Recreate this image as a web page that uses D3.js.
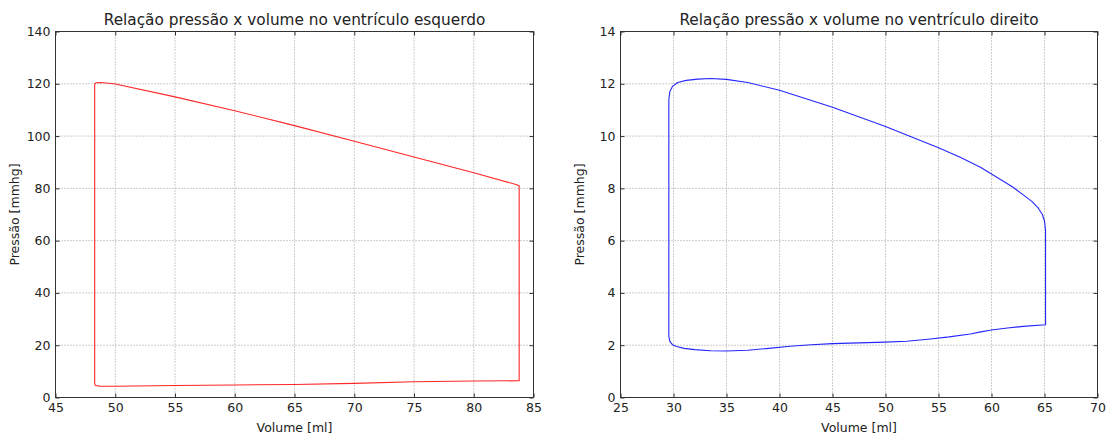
<!DOCTYPE html>
<html>
<head>
<meta charset="utf-8">
<script src="https://cdn.jsdelivr.net/npm/d3@7"></script>
<style>
  html, body { margin: 0; padding: 0; background: #fff; }
  svg text { font-family: "DejaVu Sans", sans-serif; fill: #222; }
</style>
</head>
<body>
<svg id="chart" width="1109" height="437"></svg>
<script>
// Left ventricle pressure–volume loop (volume ml, pressure mmHg)
const leftVolume = [48.28, 48.28, 48.35, 48.7, 50, 55, 60, 65, 70, 75, 80, 83.8, 83.8,
                    83.6, 80, 75, 70, 65, 60, 55, 50, 49.3, 48.7, 48.4, 48.28];
const leftPressure = [120.0, 5.2, 4.6, 4.35, 4.3, 4.6, 4.8, 5.0, 5.4, 6.0, 6.3, 6.4, 81.0,
                      81.4, 86.0, 92.0, 98.0, 104.0, 109.7, 115.0, 119.9, 120.3, 120.5, 120.4, 120.0];

// Right ventricle pressure–volume loop (volume ml, pressure mmHg)
const rightVolume = [29.56, 29.56, 29.65, 29.9, 30.3, 31, 32, 33.5, 35, 37, 39, 41, 43, 45,
                     47.5, 50, 52, 54, 56, 58, 59, 60, 61.5, 63, 65.1,
                     65.1, 65.0, 64.8, 64.4, 63.8, 63, 62, 61, 60, 59, 57, 55, 50, 45, 40, 37, 35,
                     33.5, 32.3, 31.2, 30.4, 29.9, 29.65, 29.56];
const rightPressure = [11.4, 2.35, 2.15, 2.02, 1.95, 1.88, 1.83, 1.79, 1.78, 1.81, 1.88, 1.96, 2.02, 2.06,
                       2.09, 2.12, 2.15, 2.23, 2.32, 2.43, 2.51, 2.58, 2.66, 2.72, 2.78,
                       6.4, 6.75, 7.0, 7.25, 7.5, 7.75, 8.05, 8.3, 8.55, 8.8, 9.2, 9.55, 10.37, 11.1, 11.75, 12.05, 12.17,
                       12.2, 12.18, 12.13, 12.05, 11.9, 11.7, 11.4];

const leftXTicks = [45, 50, 55, 60, 65, 70, 75, 80, 85];
const leftYTicks = [0, 20, 40, 60, 80, 100, 120, 140];
const rightXTicks = [25, 30, 35, 40, 45, 50, 55, 60, 65, 70];
const rightYTicks = [0, 2, 4, 6, 8, 10, 12, 14];

const svg = d3.select("#chart");

function drawPanel(cfg) {
  const x = d3.scaleLinear().domain(cfg.xDomain).range([cfg.left, cfg.right]);
  const y = d3.scaleLinear().domain(cfg.yDomain).range([cfg.bottom, cfg.top]);
  const g = svg.append("g");

  // dotted grid
  g.append("g").selectAll("line").data(cfg.xTicks.slice(1, -1)).join("line")
    .attr("x1", d => x(d)).attr("x2", d => x(d))
    .attr("y1", cfg.top).attr("y2", cfg.bottom)
    .attr("stroke", "#9a9a9a").attr("stroke-width", 1).attr("stroke-dasharray", "1,2");
  g.append("g").selectAll("line").data(cfg.yTicks.slice(1, -1)).join("line")
    .attr("y1", d => y(d)).attr("y2", d => y(d))
    .attr("x1", cfg.left).attr("x2", cfg.right)
    .attr("stroke", "#9a9a9a").attr("stroke-width", 1).attr("stroke-dasharray", "1,2");

  // inward ticks on all four sides
  const tickLen = 4;
  const axB = d3.axisBottom(x).tickValues(cfg.xTicks).tickSize(-tickLen).tickPadding(6).tickFormat(d3.format("d"));
  const axT = d3.axisTop(x).tickValues(cfg.xTicks).tickSize(-tickLen).tickFormat("");
  const axL = d3.axisLeft(y).tickValues(cfg.yTicks).tickSize(-tickLen).tickPadding(5).tickFormat(d3.format("d"));
  const axR = d3.axisRight(y).tickValues(cfg.yTicks).tickSize(-tickLen).tickFormat("");

  const style = sel => {
    sel.select(".domain").remove();
    sel.selectAll(".tick line").attr("stroke", "#333");
    sel.selectAll(".tick text").attr("font-size", 12.5).attr("fill", "#222")
      .attr("font-family", "DejaVu Sans, sans-serif");
  };
  g.append("g").attr("transform", `translate(0,${cfg.bottom})`).call(axB).call(style);
  g.append("g").attr("transform", `translate(0,${cfg.top})`).call(axT).call(style);
  g.append("g").attr("transform", `translate(${cfg.left},0)`).call(axL).call(style);
  g.append("g").attr("transform", `translate(${cfg.right},0)`).call(axR).call(style);

  // loop curve
  const pts = cfg.vol.map((v, i) => [v, cfg.pres[i]]);
  const line = d3.line().x(d => x(d[0])).y(d => y(d[1])).curve(d3.curveLinear);
  g.append("path").datum(pts)
    .attr("d", line)
    .attr("fill", "none")
    .attr("stroke", cfg.color)
    .attr("stroke-width", 1.1)
    .attr("stroke-linejoin", "round")
    .attr("stroke-opacity", 0.85);

  // frame
  g.append("rect")
    .attr("x", cfg.left).attr("y", cfg.top)
    .attr("width", cfg.right - cfg.left).attr("height", cfg.bottom - cfg.top)
    .attr("fill", "none").attr("stroke", "#333").attr("stroke-width", 1);

  // title and axis labels
  g.append("text")
    .attr("x", (cfg.left + cfg.right) / 2).attr("y", 25)
    .attr("text-anchor", "middle").attr("font-size", 15.3)
    .text(cfg.title);
  g.append("text")
    .attr("x", (cfg.left + cfg.right) / 2).attr("y", 432)
    .attr("text-anchor", "middle").attr("font-size", 12.5)
    .text("Volume [ml]");
  g.append("text")
    .attr("transform", `translate(${cfg.left - 37},${(cfg.top + cfg.bottom) / 2}) rotate(-90)`)
    .attr("text-anchor", "middle").attr("font-size", 12.5)
    .text("Pressão [mmhg]");
}

drawPanel({
  left: 55.5, right: 533.5, top: 31.5, bottom: 397.5,
  xDomain: [45, 85], yDomain: [0, 140],
  xTicks: leftXTicks, yTicks: leftYTicks,
  vol: leftVolume, pres: leftPressure,
  color: "#ff0000",
  title: "Relação pressão x volume no ventrículo esquerdo"
});

drawPanel({
  left: 620.5, right: 1097.5, top: 31.5, bottom: 397.5,
  xDomain: [25, 70], yDomain: [0, 14],
  xTicks: rightXTicks, yTicks: rightYTicks,
  vol: rightVolume, pres: rightPressure,
  color: "#0000ff",
  title: "Relação pressão x volume no ventrículo direito"
});
</script>
</body>
</html>
